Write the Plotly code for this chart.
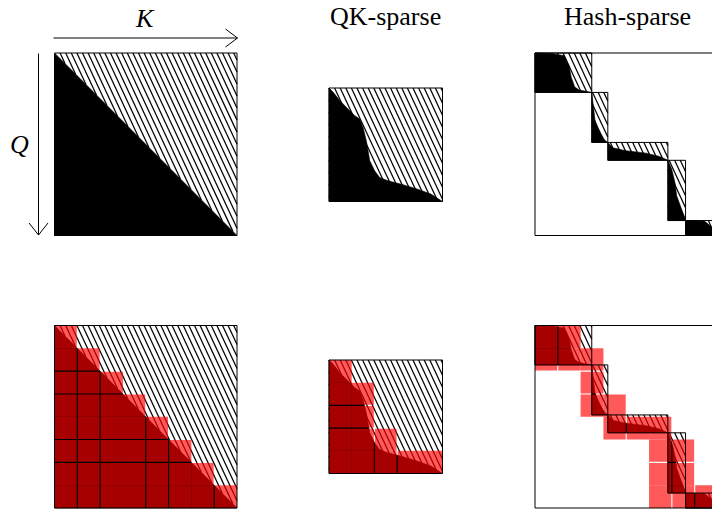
import math
import plotly.graph_objects as go

W, H = 712, 510

# ---------------- data (normalised to each matrix, u = K axis right, v = Q axis down)
causal_hatch_u = [0, 1, 1]
causal_hatch_v = [0, 0, 1]
causal_black_u = [0, 0, 1]
causal_black_v = [0, 1, 1]

qk_curve_u = [0, 0.038, 0.096, 0.169, 0.227, 0.271, 0.300, 0.329, 0.344, 0.359, 0.402, 0.446, 0.519, 0.636, 0.781, 0.898, 1.0]
qk_curve_v = [0, 0.038, 0.112, 0.185, 0.244, 0.274, 0.347, 0.465, 0.553, 0.641, 0.729, 0.788, 0.818, 0.847, 0.891, 0.935, 1.0]

hash_k_edges = [0, 0.311, 0.399, 0.728, 0.825, 1.0]
hash_q_edges = [0, 0.216, 0.490, 0.588, 0.918, 1.0]
hash_curves_u = [
    [0, 0.32, 0.52, 0.60, 0.64, 0.70, 0.78, 1.0],
    [0, 0.10, 0.20, 0.40, 0.80, 1.0],
    [0, 0.08, 0.30, 0.64, 0.86, 1.0],
    [0, 0.22, 0.40, 0.50, 0.70, 0.94, 1.0],
    [0, 0.60, 0.80, 0.90, 1.0],
]
hash_curves_v = [
    [0, 0.02, 0.07, 0.33, 0.62, 0.86, 0.94, 1.0],
    [0, 0.25, 0.55, 0.75, 0.95, 1.0],
    [0, 0.30, 0.46, 0.60, 0.78, 1.0],
    [0, 0.15, 0.37, 0.59, 0.75, 0.95, 1.0],
    [0, 0.05, 0.40, 0.80, 1.0],
]

# tiles (row, col) of the 8x8 / 5x5 flash-attention grids
causal_tiles_per_row = [1, 2, 3, 4, 5, 6, 7, 8]
qk_tiles_per_row = [1, 2, 2, 3, 5]
hash_tiles = [(0, 0), (0, 1), (1, 0), (1, 1), (1, 2), (2, 2), (3, 2), (3, 3),
              (4, 3), (4, 4), (4, 5), (5, 5), (5, 6), (6, 5), (6, 6),
              (7, 5), (7, 6), (7, 7)]

titles = ["QK-sparse", "Hash-sparse"]
axis_labels = ["K", "Q"]

# ---------------- layout geometry (pixels)
panels = {
    1: dict(x0=54.5, y0=53.0, side=182.5),
    2: dict(x0=329.0, y0=88.0, side=113.5),
    3: dict(x0=535.0, y0=53.0, side=182.5),
    4: dict(x0=54.5, y0=325.5, side=182.5),
    5: dict(x0=329.0, y0=360.0, side=113.5),
    6: dict(x0=535.0, y0=325.5, side=182.5),
}
PAD = 3.0
HATCH_SPACING_PX = 5.6
HATCH_ANGLE_DEG = 65.0
HATCH_WIDTH = 1.25
RED = "rgba(255,0,0,0.65)"

fig = go.Figure()
layout = dict(width=W, height=H, margin=dict(l=0, r=0, t=0, b=0),
              paper_bgcolor="white", plot_bgcolor="rgba(0,0,0,0)", showlegend=False)

for i, p in panels.items():
    x0, y0, s = p["x0"], p["y0"], p["side"]
    pl = max(0.0, x0 - PAD)
    pr = min(W, x0 + s + PAD)
    pt = max(0.0, y0 - PAD)
    pb = min(H, y0 + s + PAD)
    sx = "" if i == 1 else str(i)
    layout["xaxis" + sx] = dict(domain=[pl / W, pr / W], range=[(pl - x0) / s, (pr - x0) / s],
                                visible=False, fixedrange=True)
    layout["yaxis" + sx] = dict(domain=[1 - pb / H, 1 - pt / H], range=[(pb - y0) / s, (pt - y0) / s],
                                visible=False, fixedrange=True)

fig.update_layout(**layout)


def ax(i):
    return ("x" if i == 1 else "x%d" % i), ("y" if i == 1 else "y%d" % i)


def poly(i, us, vs, **kw):
    xa, ya = ax(i)
    fig.add_trace(go.Scatter(x=list(us) + [us[0]], y=list(vs) + [vs[0]], xaxis=xa, yaxis=ya,
                             mode="lines", fill="toself", hoverinfo="skip", **kw))


def hatch(i, us, vs):
    """Diagonal hatch lines (top-left to bottom-right) clipped to the polygon."""
    side = panels[i]["side"]
    k = 1.0 / math.tan(math.radians(HATCH_ANGLE_DEG))
    step = HATCH_SPACING_PX / side
    n = len(us)
    f = [us[j] - vs[j] * k for j in range(n)]
    cmin, cmax = min(f), max(f)
    j0 = math.floor(cmin / step) - 1
    j1 = math.ceil(cmax / step) + 1
    xs, ys = [], []
    for m in range(j0, j1 + 1):
        c = m * step + 1e-7
        pts = []
        for e in range(n):
            a, b = e, (e + 1) % n
            fa, fb = f[a] - c, f[b] - c
            if (fa < 0) != (fb < 0):
                t = fa / (fa - fb)
                pts.append((us[a] + t * (us[b] - us[a]), vs[a] + t * (vs[b] - vs[a])))
        pts.sort(key=lambda q: q[1])
        for q in range(0, len(pts) - 1, 2):
            xs += [pts[q][0], pts[q + 1][0], None]
            ys += [pts[q][1], pts[q + 1][1], None]
    xa, ya = ax(i)
    fig.add_trace(go.Scatter(x=xs, y=ys, xaxis=xa, yaxis=ya, mode="lines",
                             line=dict(color="black", width=HATCH_WIDTH), hoverinfo="skip"))


def black(i, us, vs):
    poly(i, us, vs, line=dict(width=0.6, color="black"), fillcolor="black")


def outline(i, x0, y0, x1, y1, width=1.0):
    xa, ya = ax(i)
    fig.add_trace(go.Scatter(x=[x0, x1, x1, x0, x0], y=[y0, y0, y1, y1, y0], xaxis=xa, yaxis=ya,
                             mode="lines", line=dict(color="black", width=width), hoverinfo="skip"))


def tiles(i, cells, n, vseams, hseams):
    g = 0.55 / panels[i]["side"]
    for r, c in cells:
        xa0, xa1, ya0, ya1 = c / n, (c + 1) / n, r / n, (r + 1) / n
        if c in vseams:
            xa0 += g
        if c + 1 in vseams:
            xa1 -= g
        if r in hseams:
            ya0 += g
        if r + 1 in hseams:
            ya1 -= g
        poly(i, [xa0, xa1, xa1, xa0], [ya0, ya0, ya1, ya1],
             line=dict(width=0, color="rgba(0,0,0,0)"), fillcolor=RED)


def causal(i):
    hatch(i, causal_hatch_u, causal_hatch_v)
    black(i, causal_black_u, causal_black_v)


def qk(i):
    hatch(i, [0, 1, 1, 0], [0, 0, 1, 1])
    black(i, qk_curve_u + [0], qk_curve_v + [1])


def hashed(i):
    for b in range(len(hash_curves_u)):
        k0, k1 = hash_k_edges[b], hash_k_edges[b + 1]
        q0, q1 = hash_q_edges[b], hash_q_edges[b + 1]
        hatch(i, [k0, k1, k1, k0], [q0, q0, q1, q1])
        us = [k0 + u * (k1 - k0) for u in hash_curves_u[b]] + [k0]
        vs = [q0 + v * (q1 - q0) for v in hash_curves_v[b]] + [q1]
        black(i, us, vs)


def hash_outlines(i):
    for b in range(len(hash_curves_u)):
        outline(i, hash_k_edges[b], hash_q_edges[b], hash_k_edges[b + 1], hash_q_edges[b + 1])


# top row
causal(1)
outline(1, 0, 0, 1, 1)
qk(2)
outline(2, 0, 0, 1, 1)
hashed(3)
hash_outlines(3)
outline(3, 0, 0, 1, 1)

# bottom row
causal(4)
tiles(4, [(r, c) for r, k in enumerate(causal_tiles_per_row) for c in range(k)], 8, {1, 2, 4, 5, 7}, {2, 3, 5, 6})
outline(4, 0, 0, 1, 1)
qk(5)
tiles(5, [(r, c) for r, k in enumerate(qk_tiles_per_row) for c in range(k)], 5, {2, 3}, {2, 3})
outline(5, 0, 0, 1, 1)
hashed(6)
tiles(6, hash_tiles, 8, {1, 4, 6, 7}, {2, 3, 6})
hash_outlines(6)
outline(6, 0, 0, 1, 1)

# ---------------- annotations: titles, axis labels and arrows
def px(x):
    return x / W


def py(y):
    return 1 - y / H


SERIF = "Liberation Serif, Times New Roman, serif"
fig.add_annotation(x=px(385.5), y=py(16), xref="paper", yref="paper", text=titles[0], showarrow=False,
                   font=dict(family=SERIF, size=26, color="black"), xanchor="center", yanchor="middle")
fig.add_annotation(x=px(627), y=py(16), xref="paper", yref="paper", text=titles[1], showarrow=False,
                   font=dict(family=SERIF, size=26, color="black"), xanchor="center", yanchor="middle")
fig.add_annotation(x=px(145), y=py(19), xref="paper", yref="paper", text="<i>%s</i>" % axis_labels[0],
                   showarrow=False, font=dict(family=SERIF, size=26, color="black"),
                   xanchor="center", yanchor="middle")
fig.add_annotation(x=px(19), y=py(144), xref="paper", yref="paper", text="<i>%s</i>" % axis_labels[1],
                   showarrow=False, font=dict(family=SERIF, size=26, color="black"),
                   xanchor="center", yanchor="middle")

arrow_lines = [
    ((53.5, 38), (237.5, 38)),
    ((225.5, 29), (237.5, 38)),
    ((225.5, 47), (237.5, 38)),
    ((38.5, 53.5), (38.5, 235)),
    ((29, 223), (38.5, 235)),
    ((48, 223), (38.5, 235)),
]
for (a, b) in arrow_lines:
    fig.add_shape(type="line", xref="paper", yref="paper", x0=px(a[0]), y0=py(a[1]),
                  x1=px(b[0]), y1=py(b[1]), line=dict(color="black", width=1))

fig.write_html("out.html", config={"displayModeBar": False},
               post_script="document.body.style.margin='0px';")
